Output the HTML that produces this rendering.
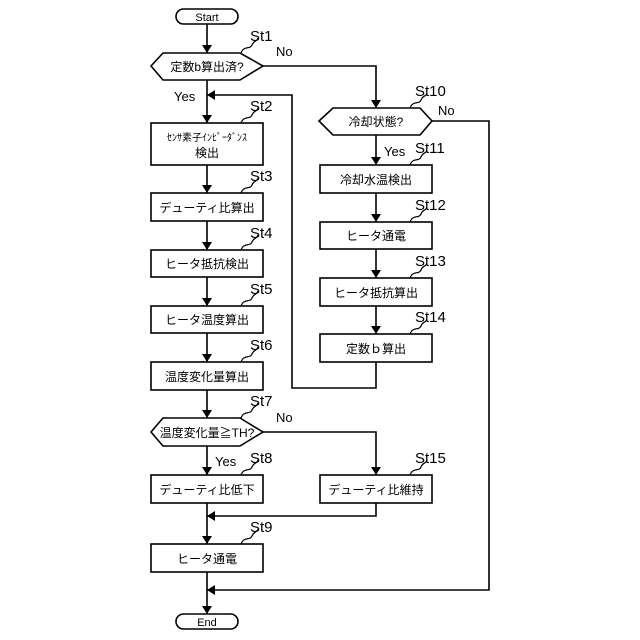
<!DOCTYPE html>
<html><head><meta charset="utf-8"><style>
html,body{margin:0;padding:0;background:#fff;}
svg{display:block;}
text{font-family:"Liberation Sans","Noto Sans CJK JP",sans-serif;fill:#000;}
.b{font-size:12px;text-anchor:middle;}
.s{font-size:15px;}
.l{font-size:13px;}
</style></head><body>
<svg width="640" height="640" viewBox="0 0 640 640" xmlns="http://www.w3.org/2000/svg">
<defs><marker id="a" markerWidth="8" markerHeight="10" refX="8" refY="5" orient="auto" markerUnits="userSpaceOnUse"><path d="M0,0 L8,5 L0,10 z" fill="#000"/></marker></defs>
<g fill="none" stroke="#000" stroke-width="1.6">
<!-- terminals -->
<rect x="176" y="9" width="62" height="15" rx="7.5" fill="#fff"/>
<rect x="176" y="614" width="62" height="15" rx="7.5" fill="#fff"/>
<!-- hexagons -->
<path d="M151,66 L163,53 L240,53 L263,66 L240,80 L163,80 Z"/>
<path d="M319,121 L333,108 L420,108 L432,121 L420,135 L333,135 Z"/>
<path d="M151,432 L163,418 L240,418 L263,432 L240,446 L163,446 Z"/>
<!-- left boxes -->
<rect x="151" y="123" width="112" height="42"/>
<rect x="151" y="193" width="112" height="28"/>
<rect x="151" y="250" width="112" height="27"/>
<rect x="151" y="306" width="112" height="27"/>
<rect x="151" y="362" width="112" height="28"/>
<rect x="151" y="475" width="112" height="28"/>
<rect x="151" y="544" width="112" height="28"/>
<!-- right boxes -->
<rect x="320" y="165" width="112" height="28"/>
<rect x="320" y="222" width="112" height="27"/>
<rect x="320" y="278" width="112" height="28"/>
<rect x="320" y="334" width="112" height="28"/>
<rect x="320" y="475" width="112" height="28"/>
<!-- main arrows -->
<line x1="207" y1="24" x2="207" y2="53" marker-end="url(#a)"/>
<line x1="207" y1="80" x2="207" y2="123" marker-end="url(#a)"/>
<line x1="207" y1="165" x2="207" y2="193" marker-end="url(#a)"/>
<line x1="207" y1="221" x2="207" y2="250" marker-end="url(#a)"/>
<line x1="207" y1="277" x2="207" y2="306" marker-end="url(#a)"/>
<line x1="207" y1="333" x2="207" y2="362" marker-end="url(#a)"/>
<line x1="207" y1="390" x2="207" y2="418" marker-end="url(#a)"/>
<line x1="207" y1="446" x2="207" y2="475" marker-end="url(#a)"/>
<line x1="207" y1="503" x2="207" y2="544" marker-end="url(#a)"/>
<line x1="207" y1="572" x2="207" y2="614" marker-end="url(#a)"/>
<!-- St1 No -->
<polyline points="263,66 376,66 376,108" marker-end="url(#a)"/>
<!-- right column -->
<line x1="376" y1="135" x2="376" y2="165" marker-end="url(#a)"/>
<line x1="376" y1="193" x2="376" y2="222" marker-end="url(#a)"/>
<line x1="376" y1="249" x2="376" y2="278" marker-end="url(#a)"/>
<line x1="376" y1="306" x2="376" y2="334" marker-end="url(#a)"/>
<polyline points="376,362 376,388 292,388 292,95 207,95" marker-end="url(#a)"/>
<!-- St10 No -->
<polyline points="432,121 489,121 489,590 207,590" marker-end="url(#a)"/>
<!-- St7 No -->
<polyline points="263,432 376,432 376,475" marker-end="url(#a)"/>
<polyline points="376,503 376,516 207,516" marker-end="url(#a)"/>
<!-- squiggles -->
<g stroke-width="1.2">
<path d="M241,53 C244,45 250,50 252,45 C254,40 257,42 258,38"/>
<path d="M241,123 C244,115 250,120 252,115 C254,110 257,112 258,108"/>
<path d="M241,193 C244,185 250,190 252,185 C254,180 257,182 258,178"/>
<path d="M241,250 C244,242 250,247 252,242 C254,237 257,239 258,235"/>
<path d="M241,306 C244,298 250,303 252,298 C254,293 257,295 258,291"/>
<path d="M241,362 C244,354 250,359 252,354 C254,349 257,351 258,347"/>
<path d="M241,418 C244,410 250,415 252,410 C254,405 257,407 258,403"/>
<path d="M241,475 C244,467 250,472 252,467 C254,462 257,464 258,460"/>
<path d="M241,544 C244,536 250,541 252,536 C254,531 257,533 258,529"/>
<path d="M410,108 C413,100 419,105 421,100 C423,95 426,97 427,93"/>
<path d="M410,165 C413,157 419,162 421,157 C423,152 426,154 427,150"/>
<path d="M410,222 C413,214 419,219 421,214 C423,209 426,211 427,207"/>
<path d="M410,278 C413,270 419,275 421,270 C423,265 426,267 427,263"/>
<path d="M410,334 C413,326 419,331 421,326 C423,321 426,323 427,319"/>
<path d="M410,475 C413,467 419,472 421,467 C423,462 426,464 427,460"/>
</g>
</g>
<!-- text -->
<text class="b" x="207" y="21" style="font-size:11px">Start</text>
<text class="b" x="207" y="626" style="font-size:11px">End</text>
<text class="b" x="207" y="71">定数b算出済?</text>
<text class="b" x="376" y="126">冷却状態?</text>
<text class="b" x="207" y="437">温度変化量≧TH?</text>
<text class="b" x="207" y="141" style="font-size:10px">ｾﾝｻ素子ｲﾝﾋﾟｰﾀﾞﾝｽ</text>
<text class="b" x="207" y="157">検出</text>
<text class="b" x="207" y="212">デューティ比算出</text>
<text class="b" x="207" y="268">ヒータ抵抗検出</text>
<text class="b" x="207" y="324">ヒータ温度算出</text>
<text class="b" x="207" y="381">温度変化量算出</text>
<text class="b" x="207" y="494">デューティ比低下</text>
<text class="b" x="207" y="563">ヒータ通電</text>
<text class="b" x="376" y="184">冷却水温検出</text>
<text class="b" x="376" y="240">ヒータ通電</text>
<text class="b" x="376" y="297">ヒータ抵抗算出</text>
<text class="b" x="376" y="353">定数ｂ算出</text>
<text class="b" x="376" y="494">デューティ比維持</text>
<text class="s" x="250" y="41">St1</text>
<text class="s" x="250" y="111">St2</text>
<text class="s" x="250" y="181">St3</text>
<text class="s" x="250" y="238">St4</text>
<text class="s" x="250" y="294">St5</text>
<text class="s" x="250" y="350">St6</text>
<text class="s" x="250" y="406">St7</text>
<text class="s" x="250" y="463">St8</text>
<text class="s" x="250" y="532">St9</text>
<text class="s" x="415" y="96">St10</text>
<text class="s" x="415" y="153">St11</text>
<text class="s" x="415" y="210">St12</text>
<text class="s" x="415" y="266">St13</text>
<text class="s" x="415" y="322">St14</text>
<text class="s" x="415" y="463">St15</text>
<text class="l" x="276" y="56">No</text>
<text class="l" x="438" y="115">No</text>
<text class="l" x="276" y="422">No</text>
<text class="l" x="174" y="101">Yes</text>
<text class="l" x="384" y="156">Yes</text>
<text class="l" x="215" y="466">Yes</text>
</svg>
</body></html>
